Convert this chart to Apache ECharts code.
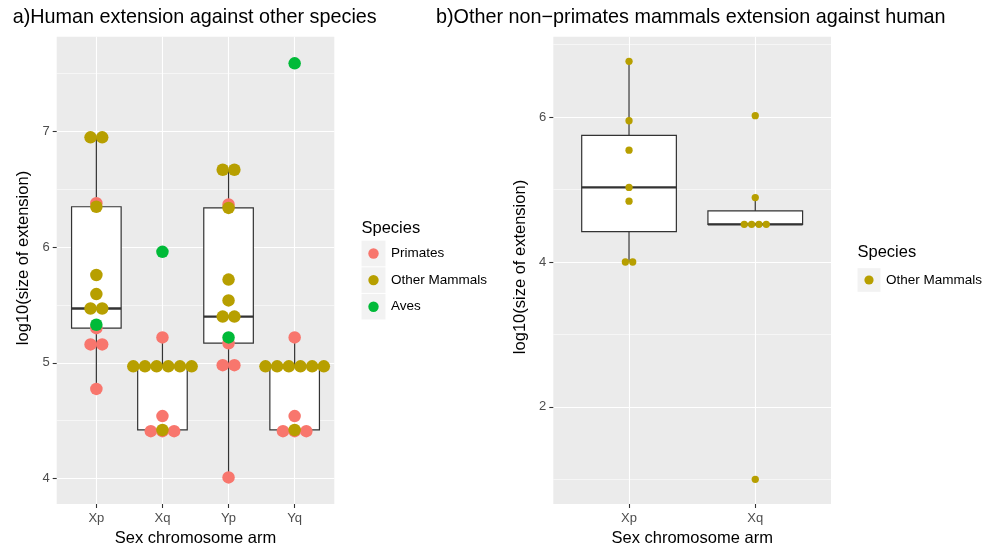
<!DOCTYPE html>
<html><head><meta charset="utf-8">
<script src="https://cdn.jsdelivr.net/npm/echarts@6/dist/echarts.min.js"></script>
<style>html,body{margin:0;padding:0;background:#fff}#c{width:989px;height:550px}</style>
</head><body><div id="c"></div>
<script>
const FONT = '"Liberation Sans", Arial, Helvetica, sans-serif';
const speciesNames = ['Primates', 'Other Mammals', 'Aves'];
const speciesColors = ['#F8766D', '#B79F00', '#00BA38'];

// Panel a: values per category (Xp, Xq, Yp, Yq) per species
const categoriesA = ['Xp', 'Xq', 'Yp', 'Yq'];
const primatesA = [[6.38, 5.30, 5.16, 5.16, 4.775], [5.22, 4.54, 4.41, 4.41, 4.41], [6.37, 5.17, 4.98, 4.98, 4.01], [5.22, 4.54, 4.41, 4.41, 4.41]];
const mammalsA = [[6.95, 6.95, 6.35, 5.76, 5.595, 5.47, 5.47], [4.97, 4.97, 4.97, 4.97, 4.97, 4.97, 4.42], [6.67, 6.67, 6.34, 5.72, 5.54, 5.40, 5.40], [4.97, 4.97, 4.97, 4.97, 4.97, 4.97, 4.42]];
const avesA = [[5.33], [5.96], [5.22], [7.59]];

// Panel b
const categoriesB = ['Xp', 'Xq'];
const mammalsB = [[6.77, 5.95, 5.544, 5.03, 4.84, 4.0, 4.0], [6.02, 4.89, 4.52, 4.52, 4.52, 4.52, 1.0]];

const yTicksA = [4, 5, 6, 7];
const yMinorA = [4.5, 5.5, 6.5, 7.5];
const yTicksB = [2, 4, 6];
const yMinorB = [1, 3, 5, 7];

const titleA = 'a)Human extension against other species';
const titleB = 'b)Other non\u2212primates mammals extension against human';
const xTitle = 'Sex chromosome arm';
const yTitle = 'log10(size of extension)';
const legendTitle = 'Species';

// ---------- helpers ----------
function quantile(sorted, p) {
  const h = (sorted.length - 1) * p, lo = Math.floor(h);
  if (lo + 1 >= sorted.length) return sorted[lo];
  return sorted[lo] + (h - lo) * (sorted[lo + 1] - sorted[lo]);
}
function boxStats(vals) {
  const s = vals.slice().sort((a, b) => a - b);
  const q1 = quantile(s, 0.25), med = quantile(s, 0.5), q3 = quantile(s, 0.75);
  const iqr = q3 - q1;
  const lo = Math.min.apply(null, s.filter(v => v >= q1 - 1.5 * iqr));
  const hi = Math.max.apply(null, s.filter(v => v <= q3 + 1.5 * iqr));
  return [lo, q1, med, q3, hi];
}
function dotData(groups, spacing) {
  const out = [];
  groups.forEach((vals, ci) => {
    const counts = {}, seen = {};
    vals.forEach(v => { counts[v] = (counts[v] || 0) + 1; });
    vals.forEach(v => {
      const k = seen[v] || 0; seen[v] = k + 1;
      const off = (k - (counts[v] - 1) / 2) * spacing;
      out.push({ value: [ci, v], symbolOffset: [off, 0] });
    });
  });
  return out;
}
function boxData(groupsBySpecies) {
  const n = groupsBySpecies[0].length;
  const out = [];
  for (let i = 0; i < n; i++) {
    let all = [];
    groupsBySpecies.forEach(g => { all = all.concat(g[i]); });
    out.push([i].concat(boxStats(all)));
  }
  return out;
}
function renderBox(params, api) {
  const x = api.value(0);
  const c = v => api.coord([x, v]);
  const w = api.size([0.75, 0])[0];
  const pMin = c(api.value(1)), pQ1 = c(api.value(2)), pMed = c(api.value(3)), pQ3 = c(api.value(4)), pMax = c(api.value(5));
  const st = { stroke: '#333333', lineWidth: 1.2, fill: null };
  return {
    type: 'group',
    children: [
      { type: 'line', shape: { x1: pQ3[0], y1: pQ3[1], x2: pMax[0], y2: pMax[1] }, style: st },
      { type: 'line', shape: { x1: pQ1[0], y1: pQ1[1], x2: pMin[0], y2: pMin[1] }, style: st },
      { type: 'rect', shape: { x: pQ3[0] - w / 2, y: pQ3[1], width: w, height: pQ1[1] - pQ3[1] }, style: { stroke: '#333333', lineWidth: 1.2, fill: '#ffffff' } },
      { type: 'line', shape: { x1: pMed[0] - w / 2, y1: pMed[1], x2: pMed[0] + w / 2, y2: pMed[1] }, style: { stroke: '#333333', lineWidth: 2.4 } }
    ]
  };
}

const gridA = { left: 56.7, top: 36.7, width: 277.6, height: 467.3 };
const gridB = { left: 553.3, top: 36.7, width: 277.7, height: 467.3 };
const baseGrid = { show: true, backgroundColor: '#EBEBEB', borderWidth: 0, containLabel: false };

function xAxisFor(gridIndex, cats) {
  const idx = cats.map((_, i) => i);
  return {
    type: 'value', gridIndex, min: -0.6, max: cats.length - 0.4, position: 'bottom',
    axisLine: { show: false, onZero: false },
    axisTick: { show: true, length: 4, customValues: idx, lineStyle: { color: '#333333', width: 1.1 } },
    axisLabel: { customValues: idx, formatter: v => cats[Math.round(v)], color: '#4D4D4D', fontSize: 13, fontFamily: FONT, margin: 8 },
    splitLine: { show: true, lineStyle: { color: '#ffffff', width: 1.1 } }
  };
}
function yAxisFor(gridIndex, min, max, ticks) {
  return {
    type: 'value', gridIndex, min, max, position: 'left',
    axisLine: { show: false, onZero: false },
    axisTick: { show: true, length: 4, customValues: ticks, lineStyle: { color: '#333333', width: 1.1 } },
    axisLabel: { customValues: ticks, color: '#4D4D4D', fontSize: 13, fontFamily: FONT, margin: 7 },
    splitLine: { show: true, lineStyle: { color: '#ffffff', width: 1.1 } }
  };
}
function yMinorFor(gridIndex, min, max, ticks) {
  return {
    type: 'value', gridIndex, min, max, position: 'right',
    axisLine: { show: false, onZero: false },
    axisTick: { show: false, customValues: ticks },
    axisLabel: { show: false, customValues: ticks },
    splitLine: { show: true, lineStyle: { color: '#ffffff', width: 0.55 } }
  };
}

const seriesA = [primatesA, mammalsA, avesA];
const series = [];
series.push({ type: 'custom', xAxisIndex: 0, yAxisIndex: 0, renderItem: renderBox, data: boxData(seriesA), encode: { x: 0, y: [1, 2, 3, 4, 5] }, z: 2, silent: true });
seriesA.forEach((g, si) => {
  series.push({ type: 'scatter', name: speciesNames[si], xAxisIndex: 0, yAxisIndex: 0, symbolSize: 12.5, itemStyle: { color: speciesColors[si], opacity: 1 }, data: dotData(g, 11.67), z: 3 + si, silent: true });
});
series.push({ type: 'custom', xAxisIndex: 1, yAxisIndex: 2, renderItem: renderBox, data: boxData([mammalsB]), encode: { x: 0, y: [1, 2, 3, 4, 5] }, z: 2, silent: true });
series.push({ type: 'scatter', name: speciesNames[1], xAxisIndex: 1, yAxisIndex: 2, symbolSize: 7.3, itemStyle: { color: speciesColors[1], opacity: 1 }, data: dotData(mammalsB, 7.33), z: 4, silent: true });

// ---------- text & legend graphics ----------
const graphics = [];
function txt(x, y, text, size, opts) {
  graphics.push(Object.assign({ type: 'text', x, y, style: Object.assign({ text, fontSize: size, fontFamily: FONT, fill: '#000000', align: 'left', verticalAlign: 'middle' }, opts && opts.style || {}) }, opts && opts.el || {}));
}
txt(12.7, 18, titleA, 19.8);
txt(436, 18, titleB, 19.8);
txt(195.5, 538, xTitle, 16.5, { style: { align: 'center' } });
txt(692.2, 538, xTitle, 16.5, { style: { align: 'center' } });
txt(23, 258, yTitle, 16.5, { style: { align: 'center' }, el: { rotation: Math.PI / 2 } });
txt(520, 267, yTitle, 16.5, { style: { align: 'center' }, el: { rotation: Math.PI / 2 } });

function legend(x, yTitleC, yFirst, pitch, keyW, keyH, dotR, names, colors) {
  txt(x, yTitleC, legendTitle, 16.5);
  names.forEach((n, i) => {
    const cy = yFirst + i * pitch;
    graphics.push({ type: 'rect', shape: { x: x, y: cy - keyH / 2, width: keyW, height: keyH }, style: { fill: '#F2F2F2' } });
    graphics.push({ type: 'circle', shape: { cx: x + keyW / 2, cy, r: dotR }, style: { fill: colors[i] } });
    txt(x + keyW + 5.5, cy, n, 13.5);
  });
}
legend(361.5, 228, 253.5, 26.6, 24, 25.6, 5.2, speciesNames, speciesColors);
legend(857.5, 252.5, 280, 26.6, 23, 23.6, 4.6, [speciesNames[1]], [speciesColors[1]]);

const chart = echarts.init(document.getElementById('c'), null, { renderer: 'canvas' });
chart.setOption({
  animation: false,
  backgroundColor: '#ffffff',
  grid: [Object.assign({}, baseGrid, gridA), Object.assign({}, baseGrid, gridB)],
  xAxis: [xAxisFor(0, categoriesA), xAxisFor(1, categoriesB)],
  yAxis: [yAxisFor(0, 3.78, 7.82, yTicksA), yMinorFor(0, 3.78, 7.82, yMinorA), yAxisFor(1, 0.66, 7.11, yTicksB), yMinorFor(1, 0.66, 7.11, yMinorB)],
  series,
  graphic: graphics
});
</script></body></html>
